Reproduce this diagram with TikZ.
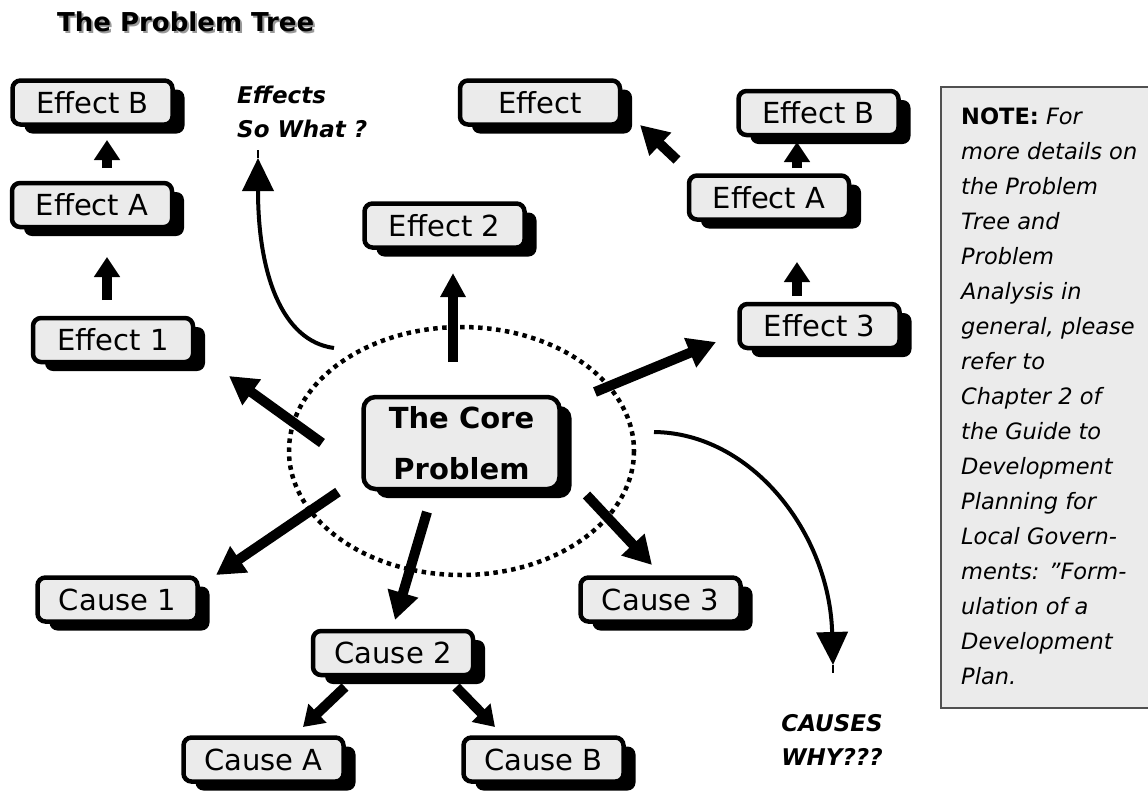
\documentclass[tikz,border=0pt]{standalone}
\usepackage{fontspec}
\setmainfont{DejaVu Sans}
\usetikzlibrary{arrows.meta,shadows}

\definecolor{boxfill}{HTML}{EBEBEB}
\definecolor{noteedge}{HTML}{505050}

\begin{document}
\begin{tikzpicture}[x=1pt,y=-1pt,
  box/.style={draw=black, line width=4.5pt, rounded corners=8pt, fill=boxfill,
    minimum width=160pt, minimum height=44pt, inner sep=0pt,
    font=\fontsize{29}{32}\selectfont,
    drop shadow={shadow xshift=12pt, shadow yshift=-9pt, fill=black, opacity=1}},
  corebox/.style={box, minimum width=196pt, minimum height=92pt, rounded corners=12pt,
    align=center, font=\fontsize{29}{51}\selectfont\bfseries},
  fat/.style={line width=10pt, -{Triangle[length=28pt,width=30pt]}},
  midfat/.style={line width=10pt, -{Triangle[length=24pt,width=24pt]}},
  short/.style={line width=10pt, -{Triangle[length=20pt,width=25pt]}},
  curved/.style={line width=4pt, -{Triangle[length=33pt,width=31pt]}},
  tick/.style={line width=1.5pt},
  ring/.style={draw=black, line width=4.5pt, dash pattern=on 4.5pt off 4.5pt},
  label/.style={font=\fontsize{23}{34}\selectfont\bfseries\itshape, align=left, inner sep=0pt}
]
\useasboundingbox (0,0) rectangle (1148,793);

% title with a grey shadow behind it
\node[anchor=base west, inner sep=0pt, text=black!40, font=\fontsize{26}{30}\selectfont\bfseries]
  (titleshadow) at (59,33) {The Problem Tree};
\node[anchor=base west, inner sep=0pt, font=\fontsize{26}{30}\selectfont\bfseries]
  (title) at (57,31) {The Problem Tree};

% dotted ring round the core problem
\draw[ring] (461.5,451) ellipse [x radius=172.5, y radius=124];

% boxes
\node[box] (effBL) at (92.5,102.5) {Effect B};
\node[box] (effAL) at (92,205) {Effect A};
\node[box] (eff1) at (113,340) {Effect 1};
\node[box] (eff2) at (444.5,225.5) {Effect 2};
\node[box] (efftop) at (540,102.5) {Effect};
\node[box] (effBR) at (818.5,113) {Effect B};
\node[box] (effAR) at (769,197.5) {Effect A};
\node[box] (eff3) at (819.5,326) {Effect 3};
\node[corebox] (core) at (461.5,443) {The Core\\Problem};
\node[box] (cause1) at (117.5,599.5) {Cause 1};
\node[box] (cause2) at (393,653) {Cause 2};
\node[box] (cause3) at (660.5,599.5) {Cause 3};
\node[box] (causeA) at (263.5,759.5) {Cause A};
\node[box] (causeB) at (543.5,759.5) {Cause B};

% side labels (base anchor sits on the last line)
\node[label, anchor=base west] (effects) at (237,137) {Effects\\So What ?};
\node[label, anchor=base, align=center] (causes) at (832,765) {CAUSES\\WHY???};

% arrows from the core
\draw[midfat] ([shift={(-8.5,-81)}]core.center) -- ([shift={(8.5,47.5)}]eff2.center);
\draw[fat] ([shift={(-139.5,0)}]core.center) -- ([shift={(116,36)}]eff1.center);
\draw[fat] ([shift={(133.5,-51)}]core.center) -- ([shift={(-103.5,16)}]eff3.center);
\draw[fat] ([shift={(-123.5,49)}]core.center) -- ([shift={(98.5,-24.5)}]cause1.center);
\draw[fat] ([shift={(-34.5,69)}]core.center) -- ([shift={(2,-33)}]cause2.center);
\draw[fat] ([shift={(125,52)}]core.center) -- ([shift={(-8.5,-34.5)}]cause3.center);

% chains of effects
\draw[short] ([shift={(15,-37)}]effAL.center) -- ([shift={(14.5,37.5)}]effBL.center);
\draw[short] ([shift={(-6,-40)}]eff1.center) -- ([shift={(15,52)}]effAL.center);
\draw[short] ([shift={(28,-29.5)}]effAR.center) -- ([shift={(-21.5,29)}]effBR.center);
\draw[short] ([shift={(-22.5,-30)}]eff3.center) -- ([shift={(28,64.5)}]effAR.center);
\draw[fat] ([shift={(-92,-37.5)}]effAR.center) -- ([shift={(100,22.5)}]efftop.center);

% causes below cause 2
\draw[short] ([shift={(-48,34)}]cause2.center) -- ([shift={(39.5,-32.5)}]causeA.center);
\draw[short] ([shift={(63,34)}]cause2.center) -- ([shift={(-48.5,-32.5)}]causeB.center);

% curved arrows towards the side labels
\coordinate (soTip) at ([shift={(-203.5,-285)}]core.center);
\coordinate (whyTip) at ([shift={(371.5,222)}]core.center);
\draw[curved] ([shift={(-127.5,-95)}]core.center)
  .. controls ([shift={(-180,-102)}]core.center) and ([shift={(-203.5,-170)}]core.center) .. (soTip);
\draw[tick] (soTip) -- ++(0,-8);
\draw[curved] ([shift={(192.5,-11)}]core.center)
  .. controls ([shift={(290,-10)}]core.center) and ([shift={(368,90)}]core.center) .. (whyTip);
\draw[tick] (whyTip) -- ++(0,8);

% note panel
\draw[fill=boxfill, draw=noteedge, line width=1.5pt] (941,87) rectangle (1150,708);
\node[anchor=north west, inner sep=0pt, align=left, font=\fontsize{22.5}{35}\selectfont]
  (note) at (961,108) {\textbf{NOTE:} \textit{For}\\
  \textit{more details on}\\
  \textit{the Problem}\\
  \textit{Tree and}\\
  \textit{Problem}\\
  \textit{Analysis in}\\
  \textit{general, please}\\
  \textit{refer to}\\
  \textit{Chapter 2 of}\\
  \textit{the Guide to}\\
  \textit{Development}\\
  \textit{Planning for}\\
  \textit{Local Govern-}\\
  \textit{ments: "Form-}\\
  \textit{ulation of a}\\
  \textit{Development}\\
  \textit{Plan.}};
\end{tikzpicture}
\end{document}
